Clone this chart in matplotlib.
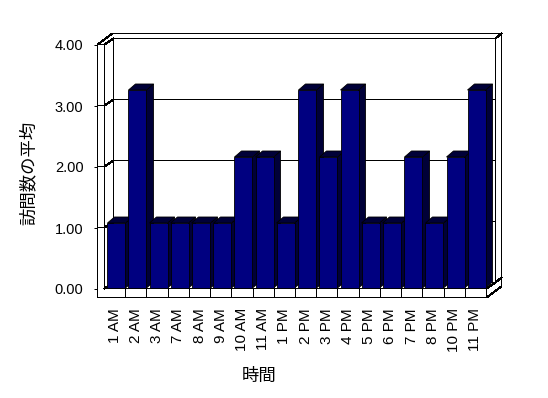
import matplotlib
matplotlib.use('Agg')
import matplotlib.pyplot as plt
from matplotlib.patches import Polygon
from matplotlib.lines import Line2D
from matplotlib.transforms import IdentityTransform, offset_copy

hours = ['1 AM', '2 AM', '3 AM', '7 AM', '8 AM', '9 AM', '10 AM', '11 AM',
         '1 PM', '2 PM', '3 PM', '4 PM', '5 PM', '6 PM', '7 PM', '8 PM',
         '10 PM', '11 PM']
visits = [1.07, 3.24, 1.07, 1.07, 1.07, 1.07, 2.15, 2.15,
          1.07, 3.24, 2.15, 3.24, 1.07, 1.07, 2.15, 1.07,
          2.15, 3.24]
yticks = [0, 1, 2, 3, 4]

plt.rcParams['font.family'] = ['Liberation Sans', 'Noto Sans CJK JP']

W, H = 548, 398
fig = plt.figure(figsize=(W/100, H/100), dpi=100)
ax = fig.add_axes([104/W, 109/H, 382/W, 244/H])
n = len(hours)
ax.set_xlim(0, n)
ax.set_ylim(0, 4)
ax.patch.set_visible(False)
for s in ax.spines.values():
    s.set_visible(False)

# pixel offsets of the fake 3d box (x right, y up)
DX, DY = 9, 6        # depth of floor / side wall
TX, TY = 15, 11      # depth incl. back wall thickness
WALL, FLOOR = 7, 9   # thickness of left wall and floor
FX, FY = 1.5, 1      # bar front face
BX, BY = 8.5, 7      # bar back face
top = max(yticks)
LW = 0.72            # one pixel


def P(x, y, dx=0, dy=0):
    px, py = ax.transData.transform((x, y))
    return (round(px) + dx, round(py) + dy)


def line(pts, z=1):
    # half pixel shift so unantialiased 1px lines stay 1px
    xs = [p[0] + 0.5 for p in pts]
    ys = [p[1] + 0.5 for p in pts]
    ax.add_line(Line2D(xs, ys, transform=IdentityTransform(), color='black',
                       lw=LW, antialiased=False, snap=False, clip_on=False, zorder=z))


# walls and floor
outline = [P(0, 0, -WALL, -FLOOR), P(0, top, -WALL, 0), P(0, top, TX - WALL, TY),
           P(n, top, TX, TY), P(n, 0, TX, TY - FLOOR), P(n, 0, 0, -FLOOR)]
ax.add_patch(Polygon(outline, closed=True, transform=IdentityTransform(), fc='white',
                     ec='none', clip_on=False, zorder=0.5))
line(outline + outline[:1])
line([P(0, top, -WALL, 0), P(0, top), P(0, 0), P(n, 0), P(n, 0, 0, -FLOOR)])
line([P(0, top), P(0, top, DX, DY)])
line([P(0, 0), P(0, 0, DX, DY)])
line([P(0, 0, DX, DY), P(n, 0, DX, DY), P(n, top, DX, DY), P(0, top, DX, DY), P(0, 0, DX, DY)])
line([P(n, top, DX, DY), P(n, top, TX, TY)])
line([P(n, 0, DX, DY), P(n, 0, TX, TY)])
line([P(n, 0), P(n, 0, DX, DY)])
for k in range(1, n):
    line([P(k, 0), P(k, 0, 0, -FLOOR)])
for v in yticks[1:-1]:
    line([P(0, v, -WALL, 0), P(0, v), P(0, v, DX, DY), P(n, v, DX, DY)])

# bars
x = [i + 0.5 for i in range(n)]
front = offset_copy(ax.transData, fig=fig, x=FX, y=FY, units='dots')
bars = ax.bar(x, visits, width=0.85, color='#000080', edgecolor='black', lw=0.6)
for i, b in enumerate(bars):
    b.set_transform(front)
    b.set_zorder(4 + 2 * i)
    b.set_clip_on(False)
    x0, w, h = b.get_x(), b.get_width(), b.get_height()
    side = [P(x0 + w, 0, FX, FY), P(x0 + w, 0, BX, BY), P(x0 + w, h, BX, BY), P(x0 + w, h, FX, FY)]
    cap = [P(x0, h, FX, FY), P(x0, h, BX, BY), P(x0 + w, h, BX, BY), P(x0 + w, h, FX, FY)]
    for poly in (side, cap):
        ax.add_patch(Polygon(poly, closed=True, transform=IdentityTransform(), fc='#000038',
                             ec='black', lw=0.6, clip_on=False, zorder=3 + 2 * i))

ax.set_xticks(x, hours, rotation=90, fontsize=11)
ax.tick_params(axis='x', length=0, pad=13.7)
ax.spines['left'].set_position(('outward', WALL * 0.72))
ax.set_yticks(yticks, [f'{v:.2f}' for v in yticks], fontsize=10.5)
ax.tick_params(axis='y', length=2.2, width=LW, pad=7.5)

ax.set_xlabel('時間', fontsize=12.5, va='center')
ax.xaxis.set_label_coords(0.406, -0.357)
ax.set_ylabel('訪問数の平均', fontsize=12.5, va='center')
ax.yaxis.set_label_coords(-0.199, 0.475)

fig.savefig('out.png', dpi=100)
